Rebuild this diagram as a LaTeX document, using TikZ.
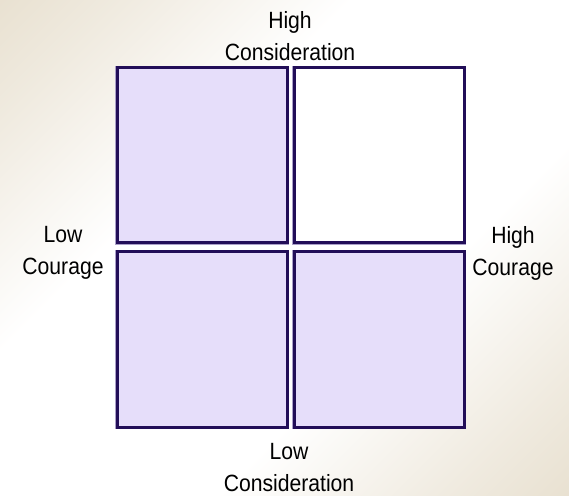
\documentclass[tikz,border=0pt]{standalone}
\usepackage{fontspec}
\setmainfont{Liberation Sans}
\definecolor{tanc}{RGB}{220,208,183}
\definecolor{boxfill}{RGB}{230,222,250}
\definecolor{boxline}{RGB}{34,14,88}
\definecolor{boxhalo}{RGB}{170,160,200}
\pgfdeclarehorizontalshading{bgshade}{100bp}{color(0bp)=(tanc); color(22bp)=(tanc!45!white); color(38bp)=(white); color(62bp)=(white); color(78bp)=(tanc!45!white); color(100bp)=(tanc)}
\begin{document}
\begin{tikzpicture}[x=1pt,y=1pt,
  quad/.style={draw=boxline, line width=3pt, rectangle, inner sep=0pt,
    minimum width=170pt, minimum height=175pt},
  halo/.style={draw=boxhalo, line width=4.4pt, rectangle, inner sep=0pt,
    minimum width=170pt, minimum height=175pt},
  lbl/.style={font=\fontsize{23.5}{32}\selectfont, align=center, inner sep=0pt, xscale=0.9}]
\useasboundingbox (0,0) rectangle (569,495);
\shade[shading=bgshade, shading angle=-45] (0,0) rectangle (569,495);
% halos
\node[halo] at (202,339.5) {};
\node[halo] at (379,339.5) {};
\node[halo] at (202,155.5) {};
\node[halo] at (379,155.5) {};
% quadrants
\node[quad, fill=boxfill] (tl) at (202,339.5) {};
\node[quad, fill=white] (tr) at (379,339.5) {};
\node[quad, fill=boxfill] (bl) at (202,155.5) {};
\node[quad, fill=boxfill] (br) at (379,155.5) {};
% labels
\node[lbl] (top) at (290,459) {High\\Consideration};
\node[lbl] (bot) at (289,27.5) {Low\\Consideration};
\node[lbl] (lft) at (63,242) {Low\\Courage};
\node[lbl] (rgt) at (513,242) {High\\Courage};
\end{tikzpicture}
\end{document}
